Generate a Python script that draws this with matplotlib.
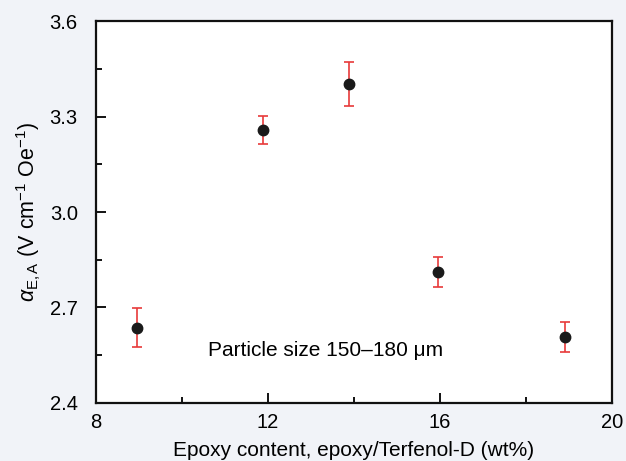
import matplotlib.pyplot as plt
from matplotlib.ticker import MultipleLocator

# values
epoxy_wt = [8.95, 11.88, 13.88, 15.95, 18.9]
alpha_ea = [2.637, 3.258, 3.402, 2.812, 2.607]
alpha_err = [0.060, 0.045, 0.070, 0.047, 0.047]

x_ticks = [8, 12, 16, 20]
y_ticks = [2.4, 2.7, 3.0, 3.3, 3.6]

plt.rcParams['font.family'] = ['Liberation Sans', 'DejaVu Sans']
plt.rcParams['mathtext.fontset'] = 'custom'
plt.rcParams['mathtext.rm'] = 'Liberation Sans'
plt.rcParams['mathtext.it'] = 'Liberation Sans:italic'

fig = plt.figure(figsize=(6.26, 4.61), dpi=100, facecolor='#f1f3f8')
ax = fig.add_axes([0.153, 0.126, 0.825, 0.828])
ax.set_facecolor('white')

ax.errorbar(epoxy_wt, alpha_ea, yerr=alpha_err, fmt='o', color='#1a1a1a',
            markersize=7.5, ecolor='#e8393a', elinewidth=1.2, capsize=3.5,
            capthick=1.2, zorder=3)

ax.set_xlim(8, 20)
ax.set_ylim(2.4, 3.6)
ax.set_xticks(x_ticks)
ax.set_yticks(y_ticks)
ax.set_yticklabels([f'{v:.1f}' for v in y_ticks])
ax.xaxis.set_minor_locator(MultipleLocator(2))
ax.yaxis.set_minor_locator(MultipleLocator(0.15))
ax.tick_params(which='both', direction='in', top=False, right=False,
               labelsize=14.5, width=1.3)
ax.tick_params(axis='x', pad=7)
ax.tick_params(axis='y', pad=13)
ax.tick_params(which='major', length=7)
ax.tick_params(which='minor', length=4)
for s in ax.spines.values():
    s.set_linewidth(1.6)
    s.set_color('#111111')

ax.set_xlabel('Epoxy content, epoxy/Terfenol-D (wt%)', fontsize=15, labelpad=7)
ax.set_ylabel(r'$\alpha_{\mathrm{E,A}}$ (V cm$^{-1}$ Oe$^{-1}$)', fontsize=15.5,
              labelpad=5)

ax.text(10.6, 2.565, 'Particle size 150\u2013180 \u03bcm', fontsize=15,
        ha='left', va='center')

fig.savefig('out.png', dpi=100, facecolor=fig.get_facecolor())
